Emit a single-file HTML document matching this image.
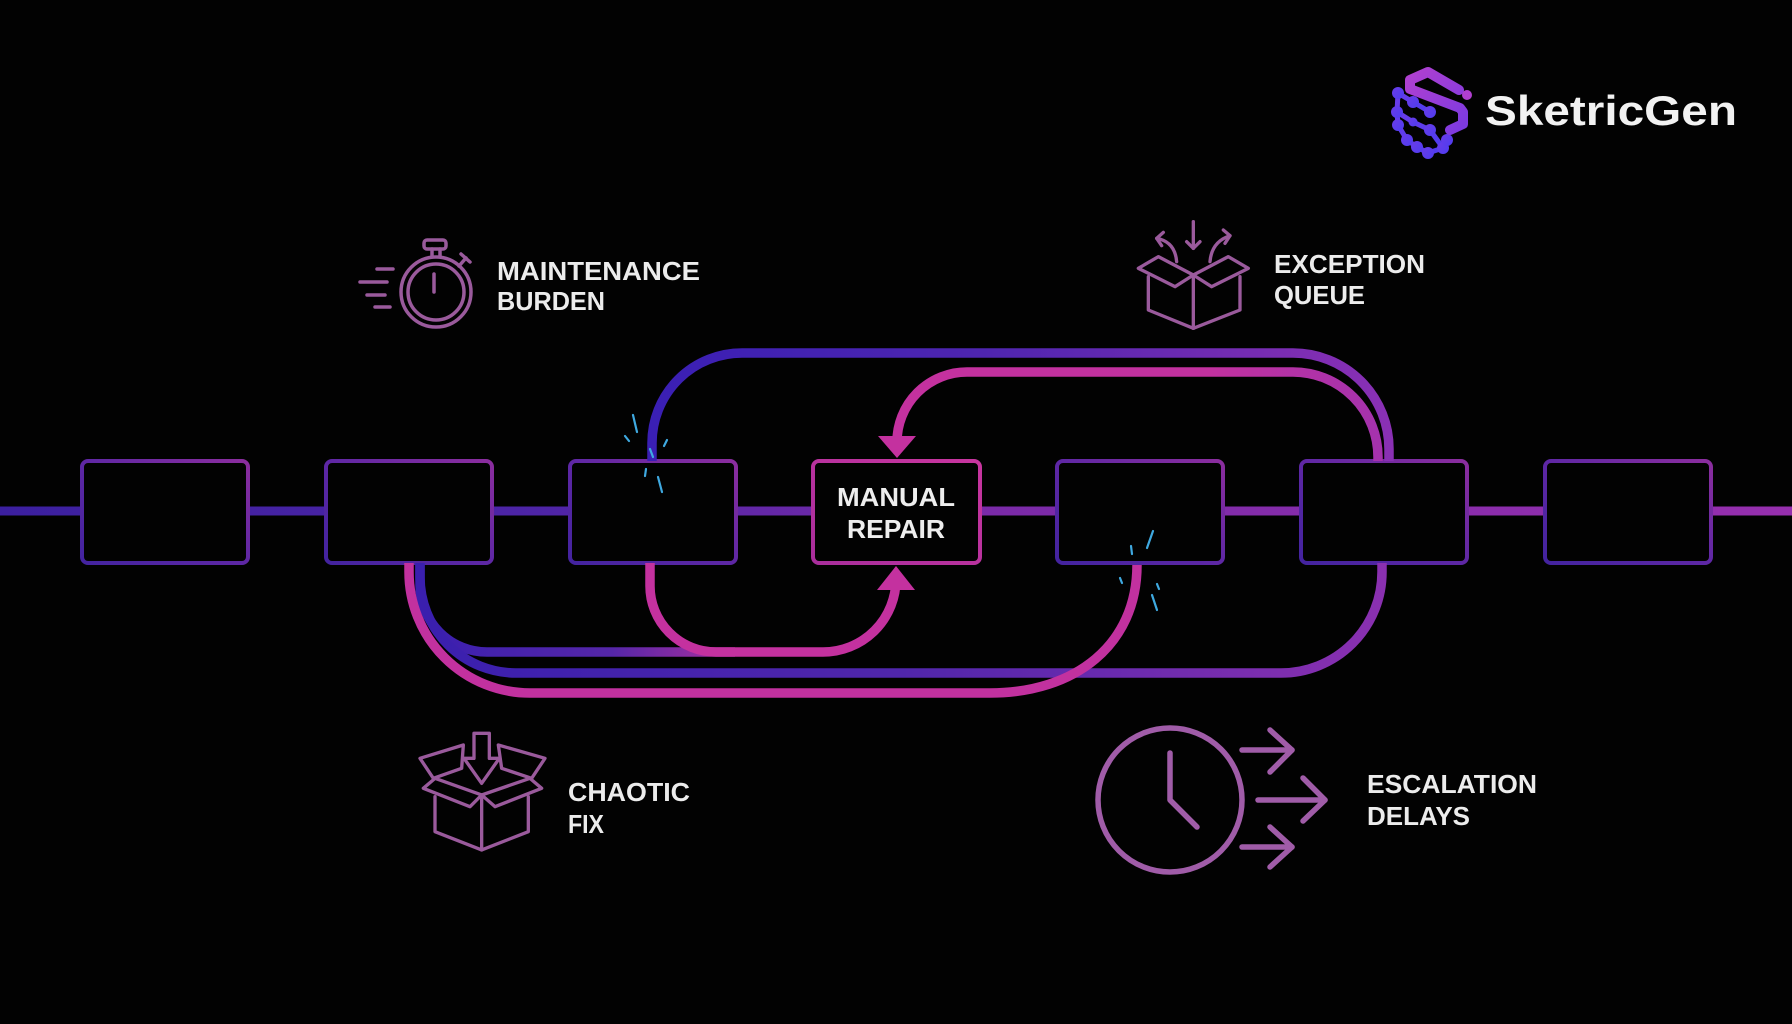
<!DOCTYPE html>
<html>
<head>
<meta charset="utf-8">
<style>
html,body{margin:0;padding:0;background:#020202;}
svg{display:block;}
</style>
</head>
<body>
<svg width="1792" height="1024" viewBox="0 0 1792 1024" xmlns="http://www.w3.org/2000/svg">
<defs>
  <linearGradient id="gMain" gradientUnits="userSpaceOnUse" x1="0" y1="0" x2="1792" y2="0">
    <stop offset="0" stop-color="#3b1f9f"/>
    <stop offset="0.3" stop-color="#4d24a6"/>
    <stop offset="0.55" stop-color="#7a2aa8"/>
    <stop offset="1" stop-color="#962fae"/>
  </linearGradient>
  <linearGradient id="gBox" x1="0" y1="1" x2="1" y2="0">
    <stop offset="0" stop-color="#43239f"/>
    <stop offset="0.5" stop-color="#5e27a4"/>
    <stop offset="1" stop-color="#8b2d9e"/>
  </linearGradient>
  <linearGradient id="gBoxP" x1="0" y1="1" x2="1" y2="0">
    <stop offset="0" stop-color="#a92e9c"/>
    <stop offset="1" stop-color="#c8359f"/>
  </linearGradient>
  <linearGradient id="gTopOuter" gradientUnits="userSpaceOnUse" x1="650" y1="0" x2="1390" y2="0">
    <stop offset="0" stop-color="#3a1fb4"/>
    <stop offset="0.45" stop-color="#4e25b0"/>
    <stop offset="1" stop-color="#8a30b4"/>
  </linearGradient>
  <linearGradient id="gPinkTop" gradientUnits="userSpaceOnUse" x1="896" y1="0" x2="1378" y2="0">
    <stop offset="0" stop-color="#c4319f"/>
    <stop offset="0.65" stop-color="#c2319f"/>
    <stop offset="1" stop-color="#a532ad"/>
  </linearGradient>
  <linearGradient id="gInd1" gradientUnits="userSpaceOnUse" x1="420" y1="0" x2="740" y2="0">
    <stop offset="0" stop-color="#3a1fb0"/>
    <stop offset="0.6" stop-color="#5526a8"/>
    <stop offset="1" stop-color="#b0309f"/>
  </linearGradient>
  <linearGradient id="gInd2" gradientUnits="userSpaceOnUse" x1="420" y1="0" x2="1382" y2="0">
    <stop offset="0" stop-color="#3a1fae"/>
    <stop offset="0.5" stop-color="#5026ac"/>
    <stop offset="1" stop-color="#8a30b0"/>
  </linearGradient>
  <linearGradient id="gLogoS" x1="0" y1="0" x2="1" y2="1">
    <stop offset="0" stop-color="#b040d0"/>
    <stop offset="1" stop-color="#7c3ae0"/>
  </linearGradient>
  <linearGradient id="gMol" x1="0" y1="0" x2="1" y2="1">
    <stop offset="0" stop-color="#6a3ce8"/>
    <stop offset="1" stop-color="#4e3cf0"/>
  </linearGradient>
</defs>

<rect width="1792" height="1024" fill="#020202"/>

<!-- main line -->
<line x1="0" y1="511" x2="1792" y2="511" stroke="url(#gMain)" stroke-width="9"/>

<!-- boxes -->
<g stroke-width="4" fill="#020202">
  <rect x="82" y="461" width="166" height="102" rx="6" stroke="url(#gBox)"/>
  <rect x="326" y="461" width="166" height="102" rx="6" stroke="url(#gBox)"/>
  <rect x="570" y="461" width="166" height="102" rx="6" stroke="url(#gBox)"/>
  <rect x="813" y="461" width="167" height="102" rx="6" stroke="url(#gBoxP)"/>
  <rect x="1057" y="461" width="166" height="102" rx="6" stroke="url(#gBox)"/>
  <rect x="1301" y="461" width="166" height="102" rx="6" stroke="url(#gBox)"/>
  <rect x="1545" y="461" width="166" height="102" rx="6" stroke="url(#gBox)"/>
</g>

<!-- connectors -->
<g fill="none" stroke-width="9.5" stroke-linecap="butt">
  <path d="M420 563 L420 585 A67 67 0 0 0 487 652 L735 652" stroke="url(#gInd1)"/>
  <path d="M420 563 L420 577 A96 96 0 0 0 516 673 L1281 673 A101 101 0 0 0 1382 572 L1382 563" stroke="url(#gInd2)"/>
  <path d="M652 461 L652 443 A90 90 0 0 1 742 353 L1293 353 A96 96 0 0 1 1389 449 L1389 461" stroke="url(#gTopOuter)"/>
  <path d="M409 563 L409 572 A121 121 0 0 0 530 693 L990 693 C1075 693 1137 645 1137 565" stroke="#c2319f"/>
  <path d="M650 563 L650 586 A66 66 0 0 0 716 652 L823 652 A73 73 0 0 0 896 579 L896 590" stroke="#c4319f"/>
  <path d="M1378 461 L1378 457 A85 85 0 0 0 1293 372 L967 372 A70 70 0 0 0 897 442" stroke="url(#gPinkTop)"/>
</g>
<polygon points="877,590 915,590 896,566" fill="#c4319f"/>
<polygon points="878,436 916,436 897,458" fill="#c4319f"/>

<!-- sparks -->
<g stroke="#3fa9e0" stroke-width="2.2" stroke-linecap="round" fill="none">
  <line x1="633" y1="415" x2="637" y2="432"/>
  <line x1="625" y1="436" x2="629" y2="441"/>
  <line x1="667" y1="440" x2="664" y2="446"/>
  <line x1="650" y1="449" x2="653" y2="457"/>
  <line x1="646" y1="469" x2="645" y2="476"/>
  <line x1="658" y1="477" x2="662" y2="492"/>
  <line x1="1153" y1="531" x2="1147" y2="548"/>
  <line x1="1131" y1="546" x2="1132" y2="554"/>
  <line x1="1120" y1="578" x2="1122" y2="583"/>
  <line x1="1157" y1="584" x2="1159" y2="589"/>
  <line x1="1152" y1="595" x2="1157" y2="610"/>
</g>

<!-- MANUAL REPAIR -->
<g font-family="'Liberation Sans', Arial, sans-serif" font-weight="bold" fill="#eeeeee" font-size="26">
  <text x="896" y="506" text-anchor="middle" textLength="118" lengthAdjust="spacingAndGlyphs">MANUAL</text>
  <text x="896" y="538" text-anchor="middle" textLength="98" lengthAdjust="spacingAndGlyphs">REPAIR</text>
</g>

<!-- labels -->
<g font-family="'Liberation Sans', Arial, sans-serif" font-weight="bold" fill="#ececec" font-size="26">
  <text x="497" y="280" textLength="203" lengthAdjust="spacingAndGlyphs">MAINTENANCE</text>
  <text x="497" y="310" textLength="108" lengthAdjust="spacingAndGlyphs">BURDEN</text>
  <text x="1274" y="273" textLength="151" lengthAdjust="spacingAndGlyphs">EXCEPTION</text>
  <text x="1274" y="304" textLength="91" lengthAdjust="spacingAndGlyphs">QUEUE</text>
  <text x="568" y="801" textLength="122" lengthAdjust="spacingAndGlyphs">CHAOTIC</text>
  <text x="568" y="833" textLength="36" lengthAdjust="spacingAndGlyphs">FIX</text>
  <text x="1367" y="793" textLength="170" lengthAdjust="spacingAndGlyphs">ESCALATION</text>
  <text x="1367" y="825" textLength="103" lengthAdjust="spacingAndGlyphs">DELAYS</text>
</g>

<!-- stopwatch icon -->
<g stroke="#9a5a9c" stroke-width="3.5" fill="none" stroke-linecap="round" stroke-linejoin="round">
  <circle cx="436" cy="292" r="35"/>
  <circle cx="436" cy="292" r="28"/>
  <rect x="424" y="240" width="22" height="9" rx="3"/>
  <line x1="432" y1="249" x2="432" y2="257"/>
  <line x1="440" y1="249" x2="440" y2="257"/>
  <line x1="459" y1="266" x2="466" y2="258"/>
  <line x1="461" y1="254" x2="470" y2="262"/>
  <line x1="434" y1="274" x2="434" y2="292"/>
  <line x1="377" y1="269" x2="393" y2="269"/>
  <line x1="360" y1="282" x2="387" y2="282"/>
  <line x1="367" y1="295" x2="385" y2="295"/>
  <line x1="375" y1="307" x2="390" y2="307"/>
</g>

<!-- exception queue box icon -->
<g transform="translate(1125,215) scale(0.3333)" stroke="#9a5a9c" stroke-width="10" fill="none" stroke-linecap="round" stroke-linejoin="round">
  <polyline points="70,185 70,285 205,340 345,285 345,185"/>
  <line x1="205" y1="180" x2="205" y2="340"/>
  <polygon points="205,180 100,125 40,160 150,215"/>
  <polygon points="205,180 310,125 370,160 260,215"/>
  <line x1="205" y1="20" x2="205" y2="100"/>
  <polyline points="185,80 205,100 225,80"/>
  <path d="M155 140 Q150 80 95 70"/>
  <polyline points="115,52 95,70 110,92"/>
  <path d="M255 140 Q260 80 315 62"/>
  <polyline points="295,45 315,62 300,85"/>
</g>

<!-- chaotic fix box icon -->
<g transform="translate(410,725) scale(0.3333)" stroke="#9a5a9c" stroke-width="10" fill="none" stroke-linecap="round" stroke-linejoin="round">
  <polygon points="192,25 238,25 238,100 268,100 215,175 162,100 192,100"/>
  <polygon points="30,100 160,60 155,130 70,160"/>
  <polygon points="265,60 405,100 365,160 275,130"/>
  <polygon points="215,210 75,160 40,190 180,245"/>
  <polygon points="215,210 360,160 395,190 255,245"/>
  <polyline points="75,215 75,320 215,375 355,320 355,215"/>
  <line x1="215" y1="210" x2="215" y2="375"/>
</g>

<!-- escalation clock icon -->
<g stroke="#a05ca8" stroke-width="5.5" fill="none" stroke-linecap="round" stroke-linejoin="round">
  <circle cx="1170" cy="800" r="72"/>
  <polyline points="1170,753 1170,800 1197,827"/>
  <line x1="1242" y1="750" x2="1292" y2="750"/>
  <polyline points="1270,730 1292,750 1270,772"/>
  <line x1="1258" y1="800" x2="1325" y2="800"/>
  <polyline points="1303,778 1325,800 1303,821"/>
  <line x1="1242" y1="847" x2="1292" y2="847"/>
  <polyline points="1270,827 1292,847 1270,867"/>
</g>

<!-- logo -->
<g>
  <g stroke="url(#gMol)" stroke-width="5" fill="none" stroke-linejoin="round">
    <polyline points="1398,93 1397,112 1398,125 1407,140 1417,147 1428,153 1443,148 1447,140"/>
    <polyline points="1398,93 1413,102 1430,112"/>
    <polyline points="1397,112 1413,122 1430,130 1443,148"/>
  </g>
  <g fill="url(#gMol)">
    <circle cx="1398" cy="93" r="6"/>
    <circle cx="1397" cy="112" r="6"/>
    <circle cx="1398" cy="125" r="6"/>
    <circle cx="1407" cy="140" r="6"/>
    <circle cx="1417" cy="147" r="6"/>
    <circle cx="1428" cy="153" r="6"/>
    <circle cx="1443" cy="148" r="6"/>
    <circle cx="1447" cy="140" r="6"/>
    <circle cx="1413" cy="102" r="6"/>
    <circle cx="1430" cy="112" r="6"/>
    <circle cx="1413" cy="122" r="4.5"/>
    <circle cx="1430" cy="130" r="6"/>
  </g>
  <polyline points="1459,90 1428,72 1410,80 1410,89 1460,108 1463,112 1463,124 1450,130" stroke="url(#gLogoS)" stroke-width="10" fill="none" stroke-linejoin="round" stroke-linecap="round"/>
  <circle cx="1467" cy="95" r="5" fill="#b03fd0"/>
  <text x="1485" y="125" font-family="'Liberation Sans', Arial, sans-serif" font-weight="bold" font-size="42" fill="#f2f2f2" textLength="252" lengthAdjust="spacingAndGlyphs">SketricGen</text>
</g>
</svg>
</body>
</html>
